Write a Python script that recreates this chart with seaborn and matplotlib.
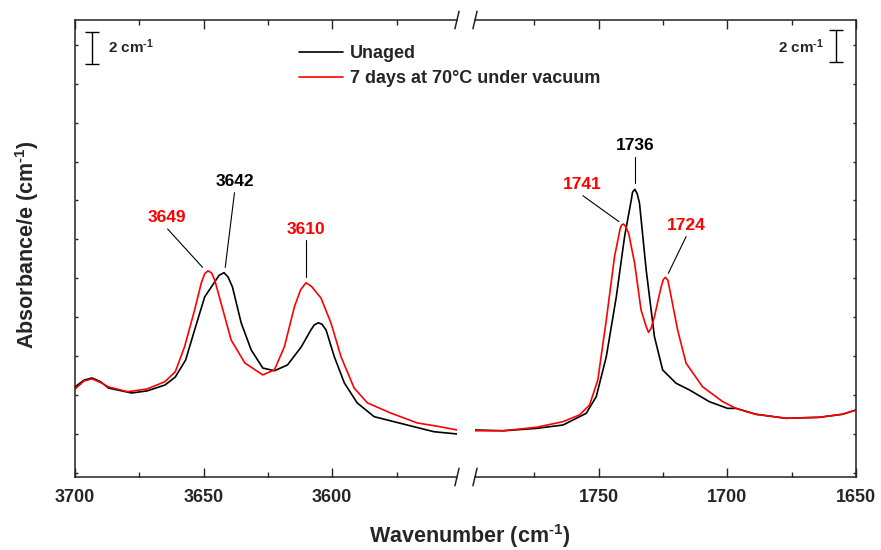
import numpy as np
import pandas as pd
import matplotlib
matplotlib.use("Agg")
import matplotlib.pyplot as plt
from matplotlib.lines import Line2D
from matplotlib.ticker import MultipleLocator
import seaborn as sns

# Spectra (y in cm-1 of absorbance/e, arbitrary offset)

# O-H region (left panel)
oh_wn_unaged = [3700, 3696.5, 3693.4, 3690, 3687, 3678, 3672, 3665, 3661, 3657, 3653.5, 3649.6,
                3645.7, 3644, 3642.1, 3640.5, 3638.8, 3635.4, 3631.5, 3627, 3622.5, 3617.4,
                3612, 3608.3, 3607, 3605.4, 3604, 3602.4, 3599.2, 3595.3, 3590.3, 3583.7,
                3570.9, 3560.5, 3551.5]
oh_abs_unaged = [5.63, 6.05, 6.19, 5.95, 5.56, 5.25, 5.38, 5.75, 6.25, 7.31, 9.19, 11.25,
                 12.19, 12.6, 12.77, 12.5, 11.88, 9.63, 7.94, 6.81, 6.64, 7.0,
                 8.14, 9.19, 9.5, 9.64, 9.55, 9.19, 7.52, 5.88, 4.63, 3.77,
                 3.25, 2.83, 2.69]

oh_wn_aged = [3700, 3696.5, 3693.4, 3690, 3687, 3679.5, 3672, 3665, 3661, 3657.4, 3653.5,
              3650.9, 3649.6, 3648.3, 3646.9, 3645.7, 3642.5, 3639.3, 3634, 3627, 3622.5,
              3618.6, 3614.7, 3612.3, 3610.2, 3608, 3604.4, 3600.5, 3596.6, 3591.5, 3586.3,
              3577.3, 3567, 3558, 3551.5]
oh_abs_aged = [5.5, 6.0, 6.13, 5.9, 5.63, 5.33, 5.5, 5.96, 6.58, 8.14, 10.44,
               12.13, 12.7, 12.89, 12.75, 12.31, 10.44, 8.56, 7.13, 6.38, 6.69,
               8.14, 10.64, 11.7, 12.14, 11.9, 11.19, 9.63, 7.52, 5.56, 4.63,
               4.0, 3.38, 3.14, 2.94]

# C=O region (right panel)
co_wn_unaged = [1798.7, 1787, 1774, 1763.8, 1754.8, 1750.9, 1747, 1743.1, 1739.9, 1737.3,
                1736.8, 1735.9, 1735, 1734.1, 1731.5, 1728.3, 1725.1, 1719.9, 1714.7, 1707,
                1699.9, 1696.6, 1688.9, 1677.2, 1664.3, 1655.3, 1649.9]
co_abs_unaged = [2.94, 2.89, 3.04, 3.25, 3.98, 5.02, 7.52, 11.27, 15.02, 17.31,
                 17.8, 17.98, 17.7, 17.11, 12.94, 8.77, 6.69, 5.86, 5.44, 4.71,
                 4.29, 4.29, 3.92, 3.67, 3.73, 3.92, 4.19]

co_wn_aged = [1798.7, 1787, 1774, 1763.8, 1757.4, 1753.5, 1750.3, 1747, 1743.8, 1741.6,
              1741, 1740.3, 1739.5, 1738.3, 1736, 1733.5, 1731.5, 1730.6, 1729.6, 1728.3,
              1725.7, 1724.8, 1724, 1723.1, 1721.8, 1719.3, 1716, 1709.6, 1701.8, 1696.6,
              1688.9, 1677.2, 1664.3, 1655.3, 1649.9]
co_abs_aged = [2.89, 2.89, 3.11, 3.46, 3.88, 4.5, 6.06, 9.81, 13.77, 15.54,
               15.75, 15.81, 15.65, 15.23, 13.36, 10.44, 9.4, 9.04, 9.3, 10.02,
               11.89, 12.35, 12.48, 12.3, 11.27, 9.19, 7.11, 5.64, 4.71, 4.29,
               3.92, 3.67, 3.73, 3.92, 4.19]

# Peak labels: (text, colour, text x, text y, line x0, y0, x1, y1)
oh_labels = [("3649", "red", 3664.1, 16.2, 3664.0, 15.5, 3650.4, 13.1),
             ("3642", "black", 3638.0, 18.47, 3638.0, 17.77, 3641.6, 13.1),
             ("3610", "red", 3610.2, 15.49, 3610.2, 14.81, 3610.2, 12.48)]
co_labels = [("1736", "black", 1735.7, 20.7, 1735.7, 20.0, 1735.7, 18.38),
             ("1741", "red", 1756.4, 18.31, 1756.1, 17.58, 1742.1, 15.96),
             ("1724", "red", 1715.9, 15.7, 1716.0, 15.02, 1722.9, 12.73)]

sns.set_style("ticks")
plt.rcParams['font.family'] = ['Liberation Sans', 'DejaVu Sans']
plt.rcParams['font.weight'] = 'bold'
plt.rcParams['mathtext.fontset'] = 'custom'
plt.rcParams['mathtext.rm'] = 'Liberation Sans:bold'
plt.rcParams['mathtext.bf'] = 'Liberation Sans:bold'
plt.rcParams['mathtext.default'] = 'bf'

CM = 'cm$^{\\text{-1}}$'

fig = plt.figure(figsize=(8.81, 5.5), dpi=100)
ax1 = fig.add_axes([75 / 881, 1 - 477 / 550, 382 / 881, 457 / 550])
ax2 = fig.add_axes([475 / 881, 1 - 477 / 550, 381 / 881, 457 / 550])

sns.lineplot(x=oh_wn_unaged, y=oh_abs_unaged, ax=ax1, color='black', lw=1.2, sort=False)
sns.lineplot(x=oh_wn_aged, y=oh_abs_aged, ax=ax1, color='red', lw=1.2, sort=False)
sns.lineplot(x=co_wn_unaged, y=co_abs_unaged, ax=ax2, color='black', lw=1.2, sort=False)
sns.lineplot(x=co_wn_aged, y=co_abs_aged, ax=ax2, color='red', lw=1.2, sort=False)

ax1.set_xlim(3700, 3551.5)
ax2.set_xlim(1798, 1650)
for ax in (ax1, ax2):
    ax.set_ylim(0, 28.56)
    ax.yaxis.set_major_locator(MultipleLocator(2.43, offset=0.27))
    ax.set_yticklabels([])
    ax.xaxis.set_major_locator(MultipleLocator(50))
    ax.xaxis.set_minor_locator(MultipleLocator(25))
    ax.tick_params(axis='x', which='major', direction='in', length=6.5, width=1,
                   top=True, labelsize=13, pad=9)
    ax.tick_params(axis='x', which='minor', direction='in', length=3.5, width=1, top=True)
    ax.tick_params(axis='y', direction='in', length=2.5, width=1)
    for s in ax.spines.values():
        s.set_linewidth(1.1)
        s.set_color('#222222')

ax1.spines['right'].set_visible(False)
ax2.spines['left'].set_visible(False)
ax1.tick_params(axis='y', left=True, right=False)
ax2.tick_params(axis='y', left=False, right=True)
ax1.set_xticks([3700, 3650, 3600])
ax2.set_xticks([1750, 1700, 1650])
for ax in (ax1, ax2):
    for lab in ax.get_xticklabels():
        lab.set_fontweight('bold')

# break marks
d = 0.012
kw = dict(color='#222222', lw=1.1, clip_on=False)
for ax, xpos in ((ax1, 1.0), (ax2, 0.0)):
    for yy in (0, 1):
        ax.plot([xpos - d * 0.45, xpos + d * 0.45], [yy - d * 1.6, yy + d * 1.6],
                transform=ax.transAxes, **kw)

# peak labels
for ax, labels in ((ax1, oh_labels), (ax2, co_labels)):
    for txt, col, tx, ty, x0, y0, x1, y1 in labels:
        ax.text(tx, ty, txt, color=col, fontsize=12.5, fontweight='bold',
                ha='center', va='center')
        ax.plot([x0, x1], [y0, y1], color='black', lw=0.8)

# scale bars (2 cm-1)
ax1.errorbar([3693.4], [26.81], yerr=1, color='black', capsize=5, lw=1, capthick=1)
ax1.text(3687.0, 26.9, '2 ' + CM, fontsize=11, fontweight='bold', ha='left', va='center')
ax2.errorbar([1657.8], [26.94], yerr=1, color='black', capsize=5, lw=1, capthick=1)
ax2.text(1662.3, 26.9, '2 ' + CM, fontsize=11, fontweight='bold', ha='right', va='center')

handles = [Line2D([], [], color='black', lw=1.2), Line2D([], [], color='red', lw=1.2)]
fig.legend(handles, ['Unaged', '7 days at 70\u00b0C under vacuum'], loc='upper left',
           bbox_to_anchor=(283 / 881, 1 - 29 / 550), frameon=False,
           handlelength=2.4, handletextpad=0.4, labelspacing=0.45,
           prop={'weight': 'bold', 'size': 13})

fig.text(470 / 881, 1 - 536 / 550, 'Wavenumber (' + CM + ')', fontsize=15.5,
         fontweight='bold', ha='center', va='center')
fig.text(27 / 881, 1 - 245 / 550, 'Absorbance/e (' + CM + ')', fontsize=15.5,
         fontweight='bold', ha='center', va='center', rotation=90)

fig.savefig('out.png', dpi=100)
